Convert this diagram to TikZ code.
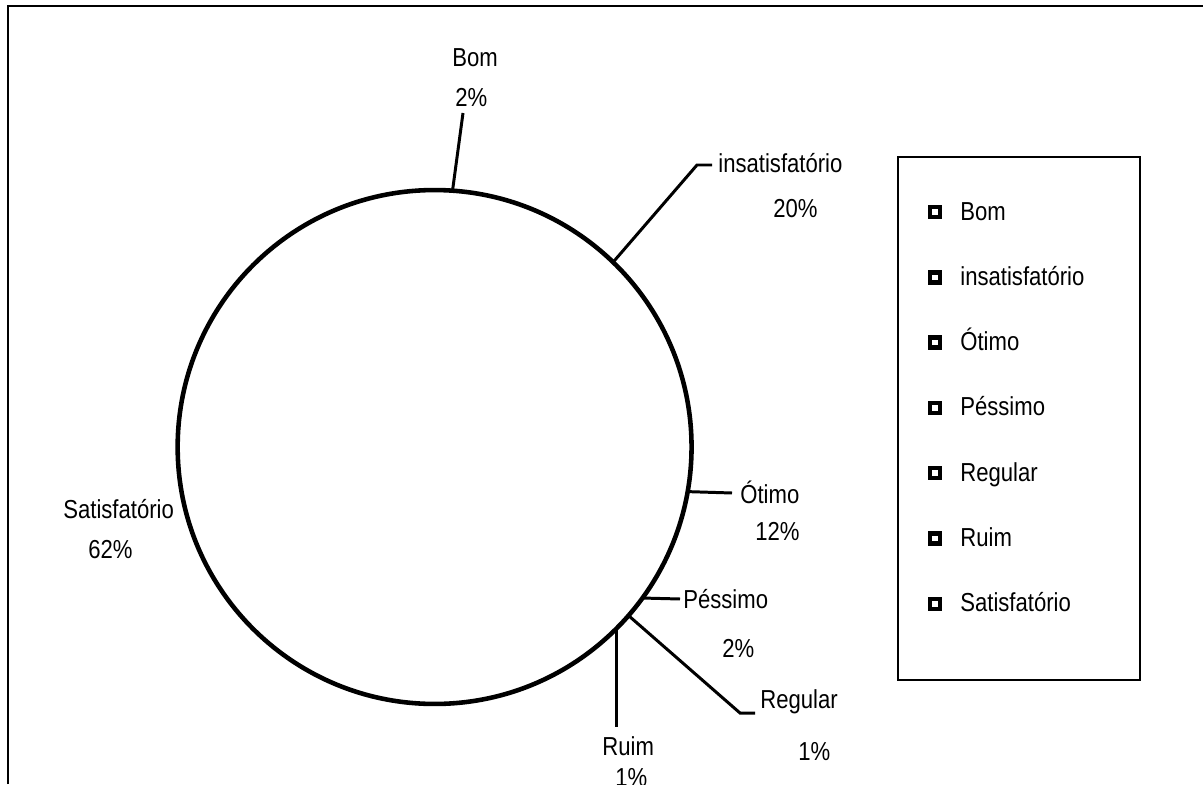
\documentclass[tikz,border=0pt]{standalone}
\usepackage{fontspec}
\setmainfont{Liberation Sans}[FakeStretch=0.85]
\begin{document}
\begin{tikzpicture}[x=0.02cm,y=-0.02cm,
  lbl/.style={anchor=base west,inner sep=0pt,font=\fontsize{14.8}{18}\selectfont},
  lead/.style={line width=1.7pt},
  legsq/.style={draw,line width=0.09cm,minimum size=0.2cm,inner sep=0pt,outer sep=0pt}]
\useasboundingbox (0,0) rectangle (1203,784);
% Rahmen
\draw[line width=1.1pt] (8,784) -- (8,6) -- (1203,6);

% Kreis
\node[circle,draw,line width=2.6pt,minimum size=10.28cm,inner sep=0pt,outer sep=0pt] (pie) at (434.6,447) {};

% Beschriftungen
\node[lbl] (bom) at (452,67) {Bom};
\node[lbl] (bompct) at (455,107) {2\%};
\node[lbl] (insat) at (718,173) {insatisfatório};
\node[lbl] (insatpct) at (773,217) {20\%};
\node[lbl] (otimo) at (740,503) {Ótimo};
\node[lbl] (otimopct) at (755,540) {12\%};
\node[lbl] (pessimo) at (683,608) {Péssimo};
\node[lbl] (pessimopct) at (722,657) {2\%};
\node[lbl] (regular) at (760,708) {Regular};
\node[lbl] (regularpct) at (798,760) {1\%};
\node[lbl] (ruim) at (602,755) {Ruim};
\node[lbl] (ruimpct) at (615,786) {1\%};
\node[lbl] (satisf) at (63,518) {Satisfatório};
\node[lbl] (satisfpct) at (88,558) {62\%};

% Hinweislinien
\coordinate (bomend) at (463,113);
\coordinate (insatknee) at (697,165);
\coordinate (insatend) at (712,165);
\coordinate (otimoend) at (732,493);
\coordinate (pessimoend) at (680,599);
\coordinate (regularknee) at (740,713);
\coordinate (regularend) at (755,713);
\coordinate (ruimend) at (618,727);
\draw[lead] (pie.86.4) -- (bomend);
\draw[lead] (pie.46.8) -- (insatknee) -- (insatend);
\draw[lead] (pie.-10.8) -- (otimoend);
\draw[lead] (pie.-36) -- (pessimoend);
\draw[lead] (pie.-41.4) -- (regularknee) -- (regularend);
\draw[lead] (pie.-45) -- (pie.-45 |- ruimend);

% Legende
\draw[line width=0.85pt] (898,157) rectangle (1140,680);
\node[legsq] (sqbom) at (935,212) {};
\node[lbl] (legbom) at (960,220) {Bom};
\node[legsq] (sqinsat) at (935,277.3) {};
\node[lbl] (leginsat) at (960,285.3) {insatisfatório};
\node[legsq] (sqotimo) at (935,342.6) {};
\node[lbl] (legotimo) at (960,350.6) {Ótimo};
\node[legsq] (sqpessimo) at (935,407.9) {};
\node[lbl] (legpessimo) at (960,415.9) {Péssimo};
\node[legsq] (sqregular) at (935,473.2) {};
\node[lbl] (legregular) at (960,481.2) {Regular};
\node[legsq] (sqruim) at (935,538.5) {};
\node[lbl] (legruim) at (960,546.5) {Ruim};
\node[legsq] (sqsatisf) at (935,603.8) {};
\node[lbl] (legsatisf) at (960,611.8) {Satisfatório};
\end{tikzpicture}
\end{document}
